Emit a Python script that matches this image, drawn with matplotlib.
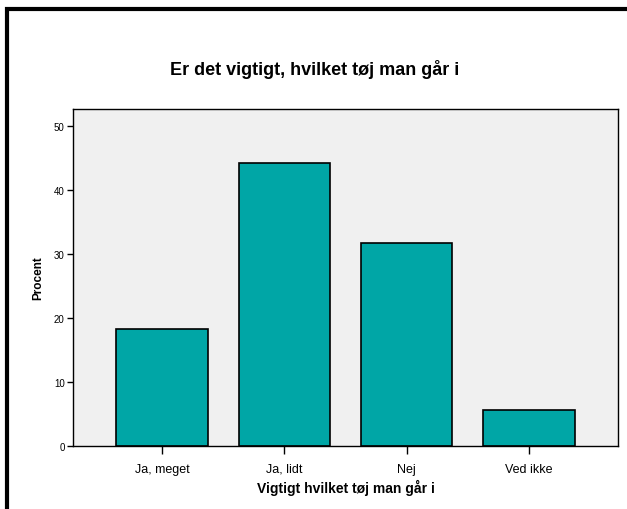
import matplotlib.pyplot as plt
from matplotlib.patches import Rectangle

categories = ['Ja, meget', 'Ja, lidt', 'Nej', 'Ved ikke']
percent = [18.3, 44.3, 31.8, 5.6]
yticks = [0, 10, 20, 30, 40, 50]

plt.rcParams['font.family'] = ['Liberation Sans', 'DejaVu Sans']

W, H = 627, 510
fig = plt.figure(figsize=(W / 100, H / 100), dpi=100)
ax = fig.add_axes([73 / W, 1 - 447 / H, (618 - 73) / W, (447 - 110) / H])

# frame around the whole chart (cut off at right and bottom)
fig.patches.append(Rectangle((7 / W, -0.1), 1.2, 1.1 - 10 / H,
                             transform=fig.transFigure, fill=False,
                             edgecolor='black', linewidth=3))

x = range(len(categories))
ax.bar(x, percent, width=0.75, color='#00A6A6', edgecolor='black', linewidth=1.2)

ax.set_facecolor('#F0F0F0')
ax.set_xlim(-0.73, 3.73)
ax.set_ylim(0, 52.7)
ax.set_yticks(yticks)
ax.set_xticks(list(x))
ax.set_xticklabels(categories)
ax.tick_params(axis='y', labelsize=7, length=4, width=1, pad=2)
ax.tick_params(axis='x', labelsize=9, length=6, width=1, pad=6)
for s in ax.spines.values():
    s.set_linewidth(1)

ax.set_ylabel('Procent', fontsize=8.5, fontweight='bold', labelpad=7)
ax.set_xlabel('Vigtigt hvilket tøj man går i', fontsize=10, fontweight='bold', labelpad=3)
fig.text(315 / W, 1 - 70 / H, 'Er det vigtigt, hvilket tøj man går i',
         ha='center', va='center', fontsize=13, fontweight='bold')

fig.savefig('out.png', dpi=100)
